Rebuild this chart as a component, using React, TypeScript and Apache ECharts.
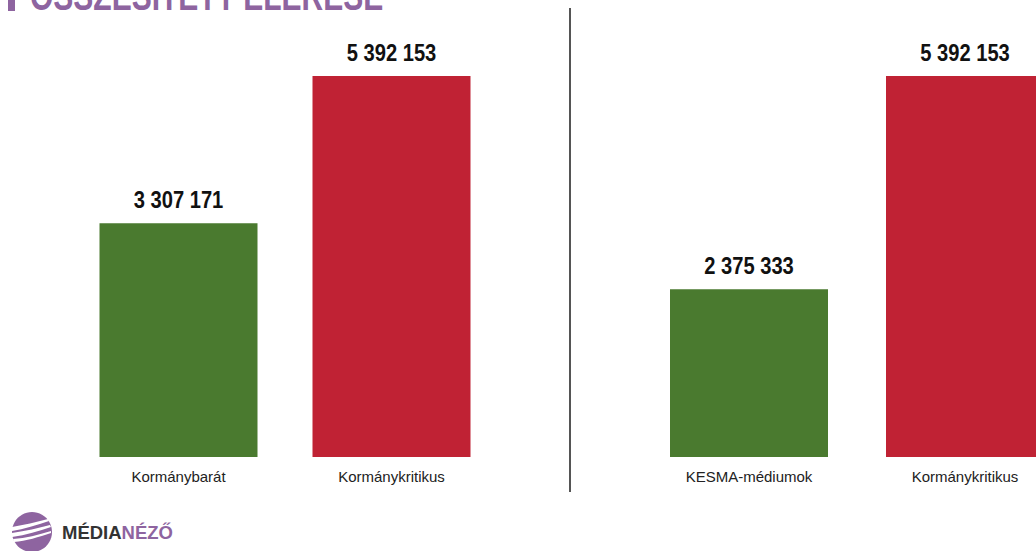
import React, { useEffect, useRef } from "react";
import * as echarts from "echarts";

const leftCategories = ["Kormánybarát", "Kormánykritikus"];
const leftValues = [3307171, 5392153];
const rightCategories = ["KESMA-médiumok", "Kormánykritikus"];
const rightValues = [2375333, 5392153];
const barColors = ["#4a7a2f", "#c02234"];
const titleText = "ÖSSZESÍTETT ELÉRÉSE";

const fmt = (v: number) => String(v).replace(/\B(?=(\d{3})+(?!\d))/g, " ");

const stripesPath =
  "M -20 -5 C -8 -7 4 -10 16 -13 L 17 -11 C 5 -7 -8 -3 -20 -1 Z " +
  "M -20 1 C -6 -1 6 -4 18 -7 L 19 -5 C 7 -1 -6 3 -20 5 Z " +
  "M -19 7 C -6 6 6 3 19 -1 L 19 1 C 7 5 -6 9 -18 10 Z";

const FONT = "'Liberation Sans', Arial, sans-serif";

export default function App() {
  const ref = useRef<HTMLDivElement>(null);
  useEffect(() => {
    if (!ref.current) return;
    try {
      echarts.graphic.registerShape("logo", echarts.graphic.extendPath(stripesPath, {}));
    } catch (e) {}
    const chart = echarts.init(ref.current, null, { renderer: "svg" });
    const xAxisCfg = (idx: number, data: string[]) => ({
      type: "category",
      gridIndex: idx,
      data,
      axisLine: { show: false },
      axisTick: { show: false },
      axisLabel: {
        color: "#222",
        fontSize: 15,
        fontFamily: FONT,
        margin: 12,
      },
    });
    const yAxisCfg = (idx: number) => ({
      type: "value",
      gridIndex: idx,
      min: 0,
      max: 5392153,
      show: false,
      splitLine: { show: false },
    });
    const labelSeries = (idx: number, values: number[]) => ({
      type: "custom",
      xAxisIndex: idx,
      yAxisIndex: idx,
      clip: false,
      data: values.map((v, i) => [i, v]),
      renderItem: (params: any, api: any) => {
        const v = api.value(1);
        const p = api.coord([api.value(0), v]);
        return {
          type: "text",
          x: p[0],
          y: p[1] - 23,
          scaleX: 0.84,
          style: {
            text: fmt(v),
            fill: "#111",
            fontFamily: FONT,
            fontWeight: "bold",
            fontSize: 24,
            align: "center",
            verticalAlign: "middle",
          },
        };
      },
    });
    chart.setOption({
      animation: false,
      backgroundColor: "#ffffff",
      grid: [
        { left: 72, width: 426, top: 76, height: 381 },
        { left: 641, width: 432, top: 76, height: 381 },
      ],
      xAxis: [xAxisCfg(0, leftCategories), xAxisCfg(1, rightCategories)],
      yAxis: [yAxisCfg(0), yAxisCfg(1)],
      series: [
        {
          type: "bar",
          xAxisIndex: 0,
          yAxisIndex: 0,
          barWidth: 158,
          data: leftValues.map((v, i) => ({ value: v, itemStyle: { color: barColors[i] } })),
        },
        {
          type: "bar",
          xAxisIndex: 1,
          yAxisIndex: 1,
          barWidth: 158,
          data: rightValues.map((v, i) => ({ value: v, itemStyle: { color: barColors[i] } })),
        },
        labelSeries(0, leftValues),
        labelSeries(1, rightValues),
      ],
      graphic: [
        {
          type: "rect",
          shape: { x: 8, y: -20, width: 7, height: 31 },
          style: { fill: "#8e64a0" },
        },
        {
          type: "text",
          x: 30,
          y: -4,
          scaleX: 0.75,
          style: {
            text: titleText,
            fill: "#8e64a0",
            fontFamily: FONT,
            fontWeight: "bold",
            fontSize: 40,
            verticalAlign: "middle",
          },
        },
        {
          type: "line",
          shape: { x1: 570, y1: 8, x2: 570, y2: 492 },
          style: { stroke: "#555", lineWidth: 2 },
        },
        {
          type: "circle",
          shape: { cx: 32, cy: 532, r: 20 },
          style: { fill: "#8e64a0" },
        },
        {
          type: "logo",
          x: 32,
          y: 532,
          style: { fill: "#ffffff" },
        },
        {
          type: "text",
          x: 62,
          y: 532,
          style: {
            text: "{a|MÉDIA}{b|NÉZŐ}",
            verticalAlign: "middle",
            rich: {
              a: { fill: "#333", fontSize: 18.5, fontWeight: "bold", fontFamily: FONT },
              b: { fill: "#8e64a0", fontSize: 18.5, fontWeight: "bold", fontFamily: FONT },
            },
          },
        },
      ],
    });
    return () => chart.dispose();
  }, []);
  return (
    <div style={{ position: "absolute", left: 0, top: 0, width: 1036, height: 551, overflow: "hidden" }}>
      <div ref={ref} style={{ width: 1100, height: 551 }} />
    </div>
  );
}
